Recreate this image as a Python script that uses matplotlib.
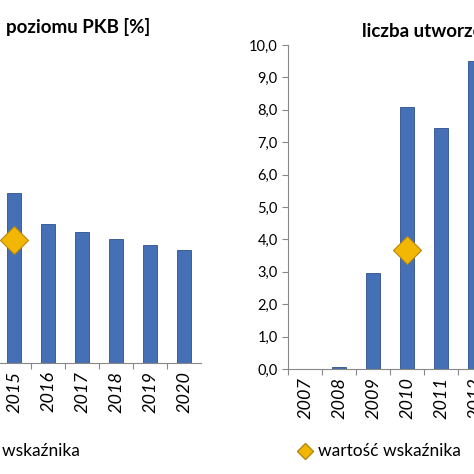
import matplotlib
matplotlib.use("Agg")
import matplotlib.pyplot as plt
import numpy as np

plt.rcParams['font.family'] = ['Lato', 'DejaVu Sans']

left_years = ["2015", "2016", "2017", "2018", "2019", "2020"]
left_values = [5.25, 4.3, 4.04, 3.83, 3.64, 3.49]
left_marker_year = "2015"
left_marker_value = 3.8

right_years = ["2007", "2008", "2009", "2010", "2011", "2012"]
right_values = [0.0, 0.07, 2.97, 8.1, 7.45, 9.5]
right_marker_year = "2010"
right_marker_value = 3.67

W = H = 474
fig = plt.figure(figsize=(4.74, 4.74), dpi=100)

def px(x0, y0, x1, y1):
    return [x0 / W, 1 - y1 / H, (x1 - x0) / W, (y1 - y0) / H]

bar_c = '#4670b5'
edge_c = '#2c4f8c'
dia_c = '#f2b705'
dia_e = '#b8860b'
spine_c = '#888888'

axL = fig.add_axes(px(201 - 34 * 14, 363 - 324, 201, 363))
xl = np.arange(len(left_years)) + 8
axL.bar(xl, left_values, width=0.42, color=bar_c, edgecolor=edge_c, linewidth=0.6)
axL.plot([xl[left_years.index(left_marker_year)]], [left_marker_value], marker='D',
         ms=14, color=dia_c, mec=dia_e, mew=0.8, ls='none', zorder=5)
axL.set_xlim(-0.5, 13.5)
axL.set_ylim(0, 10)
axL.set_xticks(np.arange(8, 14) - 0.5)
axL.set_xticks(xl, minor=True)
axL.set_xticklabels([])
axL.set_xticklabels(left_years, minor=True, rotation=90, style='italic', fontsize=13)
axL.tick_params(axis='x', which='major', length=4, color=spine_c)
axL.tick_params(axis='x', which='minor', length=0, pad=6)
axL.set_yticks([])
for s in ['left', 'right', 'top']:
    axL.spines[s].set_visible(False)
axL.spines['bottom'].set_color(spine_c)
axL.patch.set_alpha(0)

axR = fig.add_axes(px(288, 45, 288 + 34 * 14, 369))
xr = np.arange(len(right_years))
axR.bar(xr, right_values, width=0.42, color=bar_c, edgecolor=edge_c, linewidth=0.6)
axR.plot([xr[right_years.index(right_marker_year)]], [right_marker_value], marker='D',
         ms=14, color=dia_c, mec=dia_e, mew=0.8, ls='none', zorder=5)
axR.set_xlim(-0.5, 13.5)
axR.set_ylim(0, 10)
axR.set_yticks(np.arange(0, 11, 1))
axR.set_yticklabels([f"{v:.1f}".replace('.', ',') for v in range(11)], fontsize=10.5)
axR.set_xticks(np.arange(0, 14) - 0.5)
axR.set_xticks(xr, minor=True)
axR.set_xticklabels([])
axR.set_xticklabels(right_years, minor=True, rotation=90, style='italic', fontsize=13)
axR.tick_params(axis='x', which='major', length=4, color=spine_c)
axR.tick_params(axis='x', which='minor', length=0, pad=6)
axR.tick_params(axis='y', length=4, color=spine_c)
for s in ['right', 'top']:
    axR.spines[s].set_visible(False)
axR.spines['bottom'].set_color(spine_c)
axR.spines['left'].set_color(spine_c)
axR.patch.set_alpha(0)

fig.text(150 / W, 1 - 27 / H, "poziomu PKB [%]", ha='right', va='center',
         fontsize=13.5, fontweight='bold')
fig.text(362 / W, 1 - 31 / H, "liczba utworzonych miejsc pracy", ha='left', va='center',
         fontsize=13.5, fontweight='bold')

fig.text(80 / W, 1 - 451 / H, "wartość wskaźnika", ha='right', va='center', fontsize=12.5)
fig.text(318 / W, 1 - 451 / H, "wartość wskaźnika", ha='left', va='center', fontsize=12.5)
fig.lines.append(plt.Line2D([305 / W], [1 - 451 / H], marker='D', ms=8, color=dia_c,
                            mec=dia_e, transform=fig.transFigure))

fig.savefig("out.png", dpi=100)
